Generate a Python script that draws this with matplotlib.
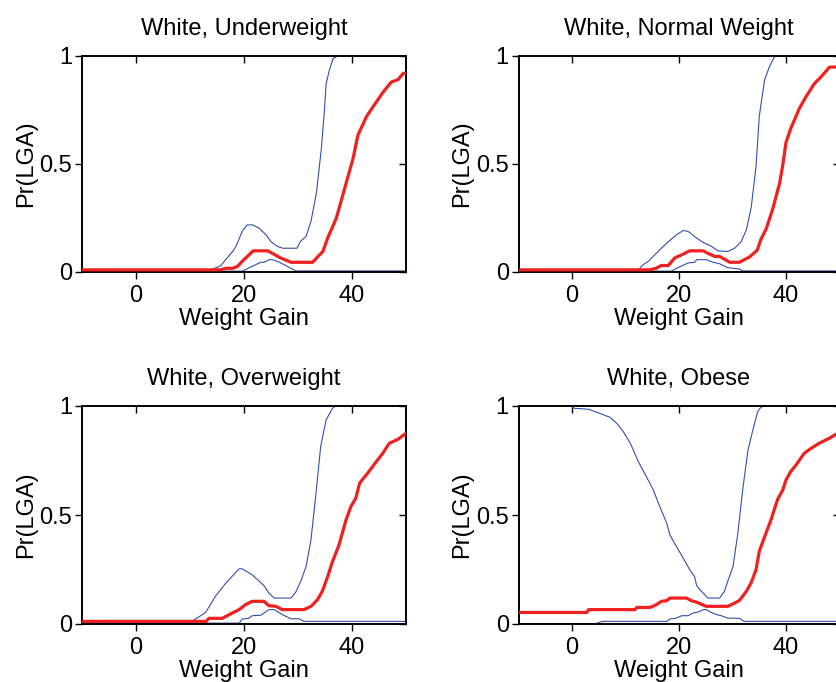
import matplotlib
matplotlib.use("Agg")
import matplotlib.pyplot as plt

plt.rcParams['font.family'] = ['Liberation Sans', 'DejaVu Sans']

titles = ["White, Underweight", "White, Normal Weight", "White, Overweight", "White, Obese"]
x_label = "Weight Gain"
y_label = "Pr(LGA)"
x_ticks = [0, 20, 40]
y_ticks = [0, 0.5, 1]
y_tick_labels = ["0", "0.5", "1"]

# Panel 1: White, Underweight
uw_mean_x = [-10, 15.7, 16.6, 17.9, 18.8, 19.7, 21.7, 24.4, 26.8, 28.7, 32.7, 34.6, 35.5, 37.1, 38.9, 40.2, 41.1, 42.7, 43.9, 45.8, 47.3, 48.5, 49.5, 50]
uw_mean_y = [0.01, 0.01, 0.017, 0.017, 0.026, 0.05, 0.098, 0.098, 0.065, 0.045, 0.045, 0.095, 0.157, 0.25, 0.41, 0.526, 0.634, 0.72, 0.765, 0.834, 0.88, 0.89, 0.92, 0.92]
uw_hi_x = [-10, 13.9, 15.7, 16.6, 17.9, 18.5, 19.7, 20.6, 21.6, 22.8, 24.1, 25.0, 26.2, 27.2, 29.8, 30.4, 31.5, 32.4, 33.4, 34.3, 34.9, 35.2, 35.8, 36.5, 37.4, 50]
uw_hi_y = [0.01, 0.01, 0.029, 0.057, 0.095, 0.118, 0.19, 0.218, 0.218, 0.203, 0.172, 0.14, 0.118, 0.11, 0.11, 0.14, 0.165, 0.234, 0.365, 0.565, 0.75, 0.87, 0.934, 0.988, 1.0, 1.0]
uw_lo_x = [-10, 19.7, 21.0, 23.1, 23.7, 24.7, 25.3, 26.5, 29.6, 50]
uw_lo_y = [0.004, 0.004, 0.02, 0.045, 0.045, 0.057, 0.057, 0.046, 0.005, 0.005]

# Panel 2: White, Normal Weight
nw_mean_x = [-10, 14.6, 15.8, 16.7, 18.0, 19.2, 20.8, 22.0, 24.5, 25.7, 26.7, 27.6, 29.5, 31.3, 33.2, 34.6, 35.3, 36.3, 37.5, 38.8, 39.4, 40.0, 40.9, 42.5, 43.7, 45.3, 46.8, 48.1, 50]
nw_mean_y = [0.01, 0.01, 0.018, 0.03, 0.03, 0.065, 0.083, 0.098, 0.098, 0.083, 0.072, 0.072, 0.045, 0.045, 0.07, 0.1, 0.15, 0.2, 0.29, 0.41, 0.495, 0.6, 0.665, 0.757, 0.81, 0.872, 0.91, 0.948, 0.95]
nw_hi_x = [-10, 12.4, 13.3, 14.3, 15.5, 16.7, 18.0, 19.5, 20.8, 21.7, 23.3, 24.5, 26.0, 27.3, 29.1, 30.4, 31.6, 32.6, 33.5, 34.4, 35.0, 36.0, 36.9, 37.8, 38.4, 50]
nw_hi_y = [0.01, 0.01, 0.034, 0.05, 0.08, 0.11, 0.14, 0.172, 0.192, 0.188, 0.157, 0.137, 0.12, 0.098, 0.095, 0.11, 0.14, 0.195, 0.3, 0.49, 0.72, 0.89, 0.95, 0.995, 1.0, 1.0]
nw_lo_x = [-10, 18.6, 19.8, 21.7, 22.9, 23.3, 25.1, 26.4, 27.6, 29.1, 31.3, 31.9, 50]
nw_lo_y = [0.004, 0.004, 0.02, 0.042, 0.045, 0.057, 0.057, 0.045, 0.038, 0.02, 0.014, 0.005, 0.005]

# Panel 3: White, Overweight
ow_mean_x = [-10, 13.0, 13.5, 16.0, 17.8, 19.1, 20.3, 21.5, 23.7, 24.6, 25.9, 27.1, 31.1, 32.4, 33.6, 34.5, 35.5, 36.4, 37.6, 38.9, 39.8, 40.7, 41.4, 42.9, 44.5, 45.7, 46.9, 48.5, 50]
ow_mean_y = [0.012, 0.012, 0.026, 0.026, 0.05, 0.066, 0.089, 0.104, 0.104, 0.084, 0.081, 0.066, 0.066, 0.081, 0.111, 0.15, 0.218, 0.287, 0.363, 0.478, 0.539, 0.577, 0.646, 0.692, 0.745, 0.783, 0.829, 0.847, 0.875]
ow_hi_x = [-6.6, 10.1, 12.9, 14.7, 16.9, 19.1, 19.7, 21.5, 23.7, 24.6, 25.6, 28.7, 29.6, 30.5, 31.5, 32.4, 33.3, 34.2, 35.2, 36.4, 37.0, 50]
ow_hi_y = [0.008, 0.008, 0.053, 0.127, 0.195, 0.253, 0.253, 0.226, 0.176, 0.142, 0.119, 0.119, 0.147, 0.195, 0.264, 0.386, 0.592, 0.814, 0.936, 0.99, 1.0, 1.0]
ow_lo_x = [-10, 19.1, 19.7, 20.9, 21.5, 23.1, 24.6, 25.6, 27.1, 28.7, 30.2, 31.1, 50]
ow_lo_y = [0.004, 0.004, 0.023, 0.026, 0.038, 0.04, 0.066, 0.066, 0.043, 0.024, 0.024, 0.012, 0.012]

# Panel 4: White, Obese
ob_mean_x = [-10, 2.8, 3.1, 11.8, 12.1, 14.6, 15.8, 16.7, 17.7, 18.3, 21.4, 22.3, 23.3, 25.1, 29.1, 30.1, 31.3, 32.6, 33.5, 34.4, 35.0, 36.0, 37.2, 38.4, 39.4, 40.0, 40.9, 41.9, 43.4, 44.7, 46.2, 48.1, 50]
ob_mean_y = [0.053, 0.053, 0.066, 0.066, 0.076, 0.076, 0.089, 0.104, 0.107, 0.119, 0.119, 0.107, 0.1, 0.081, 0.081, 0.092, 0.108, 0.15, 0.19, 0.249, 0.333, 0.4, 0.478, 0.57, 0.615, 0.661, 0.7, 0.73, 0.783, 0.806, 0.829, 0.852, 0.88]
ob_hi_x = [-10, 0.0, 0.3, 3.1, 4.7, 7.1, 8.4, 9.6, 10.9, 12.4, 13.9, 15.2, 16.4, 17.7, 18.3, 19.5, 20.8, 22.0, 22.9, 23.3, 24.2, 25.4, 27.6, 28.5, 29.1, 30.1, 31.0, 31.9, 32.9, 33.8, 34.7, 35.3, 36.0, 50]
ob_hi_y = [1.0, 1.0, 0.99, 0.985, 0.971, 0.948, 0.92, 0.882, 0.829, 0.745, 0.676, 0.615, 0.539, 0.463, 0.409, 0.356, 0.302, 0.249, 0.218, 0.176, 0.15, 0.119, 0.119, 0.15, 0.195, 0.264, 0.417, 0.615, 0.798, 0.89, 0.974, 0.994, 1.0, 1.0]
ob_lo_x = [-10, 4.3, 5.6, 17.7, 18.3, 19.5, 20.5, 21.7, 22.6, 23.6, 24.5, 25.1, 26.0, 27.0, 27.9, 29.1, 31.3, 32.2, 50]
ob_lo_y = [0.0, 0.0, 0.012, 0.012, 0.023, 0.027, 0.038, 0.038, 0.05, 0.055, 0.066, 0.066, 0.053, 0.043, 0.038, 0.027, 0.026, 0.012, 0.012]

panels = [
    (uw_mean_x, uw_mean_y, uw_hi_x, uw_hi_y, uw_lo_x, uw_lo_y),
    (nw_mean_x, nw_mean_y, nw_hi_x, nw_hi_y, nw_lo_x, nw_lo_y),
    (ow_mean_x, ow_mean_y, ow_hi_x, ow_hi_y, ow_lo_x, ow_lo_y),
    (ob_mean_x, ob_mean_y, ob_hi_x, ob_hi_y, ob_lo_x, ob_lo_y),
]

W, H = 837, 682
fig = plt.figure(figsize=(W / 100, H / 100), dpi=100)

# axes rectangles in pixels: (left, top, right, bottom)
rects = [
    (82, 56, 406, 272),
    (518.5, 56, 839.5, 272),
    (82, 406, 406, 624),
    (518.5, 406, 839.5, 624),
]

red = "#ee2020"
blue = "#3050b0"
fs = 17

for (l, t, r, b), title, (mx, my, hx, hy, lx, ly) in zip(rects, titles, panels):
    ax = fig.add_axes([l / W, 1 - b / H, (r - l) / W, (b - t) / H])
    ax.plot(lx, ly, color=blue, lw=0.8, zorder=2)
    ax.plot(hx, hy, color=blue, lw=0.8, zorder=2)
    ax.plot(mx, my, color=red, lw=2.3, zorder=3)
    ax.set_xlim(-10, 50)
    ax.set_ylim(0, 1)
    ax.set_xticks(x_ticks)
    ax.set_yticks(y_ticks)
    ax.set_yticklabels(y_tick_labels)
    ax.tick_params(axis='both', which='both', direction='out', length=5, width=1,
                   labelsize=fs, color='black')
    ax.tick_params(axis='x', pad=4)
    ax.tick_params(axis='y', pad=2)
    ax.tick_params(top=True, right=True)
    for side in ("top", "right", "bottom", "left"):
        ax.spines[side].set_linewidth(1.4)
        ax.spines[side].set_color("black")
    # inward ticks on the top and right
    for tl in ax.xaxis.get_ticklines()[1::2]:
        tl.set_marker(3)
    for tl in ax.yaxis.get_ticklines()[1::2]:
        tl.set_marker(0)
    ax.set_title(title, fontsize=fs, pad=15)
    ax.set_xlabel(x_label, fontsize=fs, labelpad=1)
    ax.set_ylabel(y_label, fontsize=fs, labelpad=2)

fig.savefig("out.png", dpi=100)
